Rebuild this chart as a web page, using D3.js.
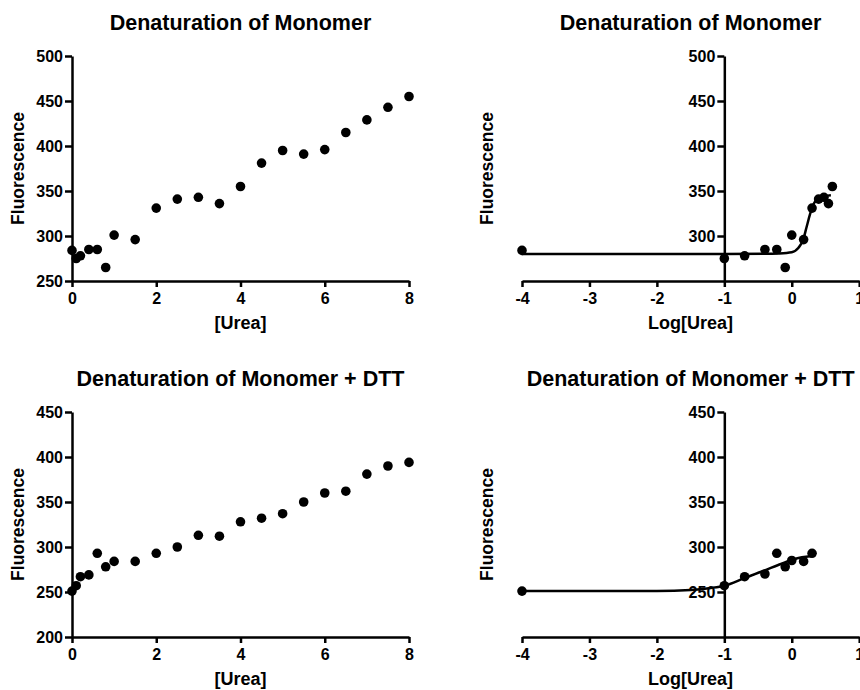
<!DOCTYPE html>
<html>
<head>
<meta charset="utf-8">
<script src="https://cdn.jsdelivr.net/npm/d3@7"></script>
<style>
  body { margin: 0; background: #fff; }
  svg { font-family: "Liberation Sans", Arial, Helvetica, sans-serif; font-weight: bold; }
  .axis path, .axis line { stroke: #000; stroke-width: 2.5; }
  .axis text { font-size: 16px; font-weight: bold; fill: #000; }
</style>
</head>
<body>
<script>
// Monomer, linear urea
var urea1 = [0, 0.1, 0.2, 0.4, 0.6, 0.8, 1, 1.5, 2, 2.5, 3, 3.5, 4, 4.5, 5, 5.5, 6, 6.5, 7, 7.5, 8];
var fluor1 = [284, 275, 278, 285, 285, 265, 301, 296, 331, 341, 343, 336, 355, 381, 395, 391, 396, 415, 429, 443, 455];

// Monomer, log urea
var logUrea2 = [-4, -1, -0.699, -0.398, -0.222, -0.097, 0, 0.176, 0.301, 0.398, 0.477, 0.544, 0.602];
var fluor2 = [284, 275, 278, 285, 285, 265, 301, 296, 331, 341, 343, 336, 355];
var fitX2 = [-4, -1, -0.4, -0.2, 0, 0.1, 0.17, 0.22, 0.27, 0.32, 0.4, 0.5, 0.58];
var fitY2 = [280, 280, 280.2, 280.6, 282, 287, 296, 310, 324, 335, 341.5, 344.3, 345.2];

// Monomer + DTT, linear urea
var urea3 = [0, 0.1, 0.2, 0.4, 0.6, 0.8, 1, 1.5, 2, 2.5, 3, 3.5, 4, 4.5, 5, 5.5, 6, 6.5, 7, 7.5, 8];
var fluor3 = [251, 257, 267, 269, 293, 278, 284, 284, 293, 300, 313, 312, 328, 332, 337, 350, 360, 362, 381, 390, 394];

// Monomer + DTT, log urea
var logUrea4 = [-4, -1, -0.699, -0.398, -0.222, -0.097, 0, 0.176, 0.301];
var fluor4 = [251, 257, 267, 270, 293, 278, 285, 284, 293];
var fitX4 = [-4, -2, -1.5, -1.2, -1, -0.7, -0.4, -0.2, 0, 0.15, 0.3];
var fitY4 = [251, 251.2, 252.3, 254.5, 257, 265.5, 274, 280, 285.5, 288.5, 290];

var linTicks = [0, 2, 4, 6, 8];
var logTicks = [-4, -3, -2, -1, 0, 1];
var yTicksTop = [250, 300, 350, 400, 450, 500];
var yTicksBottom = [200, 250, 300, 350, 400, 450];

var svg = d3.select("body").append("svg")
  .attr("width", 860)
  .attr("height", 690);

function drawPanel(p) {
  var x = d3.scaleLinear().domain(p.xDomain).range(p.xRange);
  var y = d3.scaleLinear().domain(p.yDomain).range(p.yRange);
  var g = svg.append("g");
  var plain = function(d) { return String(d); };

  // axes
  g.append("g").attr("class", "axis")
    .attr("transform", "translate(0," + p.yRange[0] + ")")
    .call(d3.axisBottom(x).tickValues(p.xTicks).tickFormat(plain)
      .tickSize(6).tickSizeOuter(0).tickPadding(6));

  g.append("g").attr("class", "axis")
    .attr("transform", "translate(" + x(p.yAxisAt) + ",0)")
    .call(d3.axisLeft(y).tickValues(p.yTicks).tickFormat(plain)
      .tickSize(7).tickSizeOuter(0).tickPadding(2));

  // fitted curve
  if (p.fitX) {
    var pts = p.fitX.map(function(d, i) { return [d, p.fitY[i]]; });
    g.append("path")
      .datum(pts)
      .attr("fill", "none")
      .attr("stroke", "#000")
      .attr("stroke-width", 2.5)
      .attr("d", d3.line()
        .x(function(d) { return x(d[0]); })
        .y(function(d) { return y(d[1]); })
        .curve(d3.curveMonotoneX));
  }

  // points
  g.selectAll("circle")
    .data(p.xs)
    .enter().append("circle")
    .attr("cx", function(d) { return x(d); })
    .attr("cy", function(d, i) { return y(p.ys[i]); })
    .attr("r", 4.8)
    .attr("fill", "#000");

  var cx = (p.xRange[0] + p.xRange[1]) / 2;
  var cy = (p.yRange[0] + p.yRange[1]) / 2;

  g.append("text")
    .attr("x", cx)
    .attr("y", p.yRange[1] - 26)
    .attr("text-anchor", "middle")
    .style("font-size", "21.5px")
    .text(p.title);

  g.append("text")
    .attr("x", cx)
    .attr("y", p.yRange[0] + 48)
    .attr("text-anchor", "middle")
    .style("font-size", "18px")
    .text(p.xLabel);

  g.append("text")
    .attr("transform", "translate(" + p.yLabelX + "," + cy + ") rotate(-90)")
    .attr("text-anchor", "middle")
    .style("font-size", "17.5px")
    .text("Fluorescence");
}

drawPanel({
  title: "Denaturation of Monomer", xLabel: "[Urea]",
  xs: urea1, ys: fluor1,
  xDomain: [0, 8], xRange: [72, 409], xTicks: linTicks, yAxisAt: 0,
  yDomain: [250, 500], yRange: [281, 56], yTicks: yTicksTop, yLabelX: 24
});

drawPanel({
  title: "Denaturation of Monomer", xLabel: "Log[Urea]",
  xs: logUrea2, ys: fluor2, fitX: fitX2, fitY: fitY2,
  xDomain: [-4, 1], xRange: [522, 859.2], xTicks: logTicks, yAxisAt: -1,
  yDomain: [250, 500], yRange: [281, 56], yTicks: yTicksTop.slice(1), yLabelX: 493
});

drawPanel({
  title: "Denaturation of Monomer + DTT", xLabel: "[Urea]",
  xs: urea3, ys: fluor3,
  xDomain: [0, 8], xRange: [72, 409], xTicks: linTicks, yAxisAt: 0,
  yDomain: [200, 450], yRange: [637, 412], yTicks: yTicksBottom, yLabelX: 24
});

drawPanel({
  title: "Denaturation of Monomer + DTT", xLabel: "Log[Urea]",
  xs: logUrea4, ys: fluor4, fitX: fitX4, fitY: fitY4,
  xDomain: [-4, 1], xRange: [522, 859.2], xTicks: logTicks, yAxisAt: -1,
  yDomain: [200, 450], yRange: [637, 412], yTicks: yTicksBottom.slice(1), yLabelX: 493
});
</script>
</body>
</html>
